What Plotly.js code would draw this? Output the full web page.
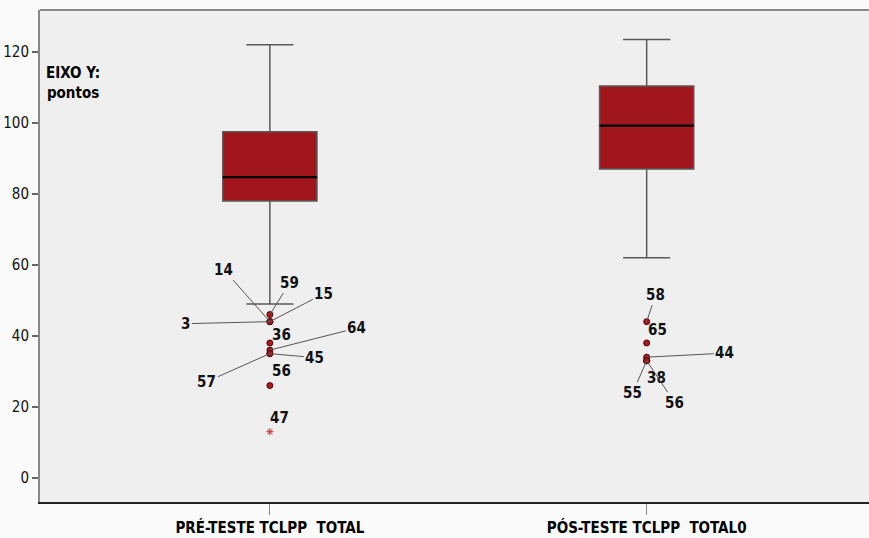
<!DOCTYPE html>
<html><head><meta charset="utf-8">
<script src="https://cdn.plot.ly/plotly-3.0.1.min.js"></script>
<style>html,body{margin:0;padding:0;background:#fafafa;}#chart{width:869px;height:538px;}</style>
</head><body><div id="chart"></div>
<script>
// ---- data ----
const categories = ["PRÉ-TESTE TCLPP  TOTAL", "PÓS-TESTE TCLPP  TOTAL0"];
const q1Vals = [78, 87];
const medianVals = [84.7, 99.2];
const q3Vals = [97.5, 110.4];
const lowerFence = [49, 62];
const upperFence = [122, 123.5];
const preOutlierIds = ["59", "14", "15", "3", "36", "64", "45", "57", "56"];
const preOutlierVals = [46, 44, 44, 44, 38, 36, 35, 35, 26];
const preExtremeIds = ["47"];
const preExtremeVals = [13];
const postOutlierIds = ["58", "65", "44", "55", "38", "56"];
const postOutlierVals = [44, 38, 34, 33, 33, 33];

// ---- label placement (pixel offsets; styling only) ----
const labelOffsets = {
  pre: {"59":[20,-32,true],"14":[-46,-52,true],"15":[54,-28,true],"3":[-84,2,true],
        "36":[12,8,false],"64":[87,-22,true],"45":[45,4,true],"57":[-63,28,true],
        "56":[12,15,false],"47":[10,14,false]},
  post:{"58":[9,-27,true],"65":[11,13,false],"44":[78,-4,true],"55":[-14,32,true],
        "38":[10,-17,false],"56":[28,42,true]}
};

const FONT = "'Liberation Sans Narrow', 'DejaVu Sans Condensed', 'Arial Narrow', sans-serif";
const boxFill = "#a0161c";
const traces = [];
const halfW = 0.125;

categories.forEach((c, i) => {
  traces.push({
    type: "box", x: [i], q1: [q1Vals[i]], median: [medianVals[i]], q3: [q3Vals[i]],
    lowerfence: [lowerFence[i]], upperfence: [upperFence[i]],
    width: 2*halfW, whiskerwidth: 0.5, fillcolor: boxFill,
    line: {color: "#5a5a5a", width: 1.5}, boxpoints: false, hoverinfo: "skip", showlegend: false
  });
  traces.push({
    type: "scatter", mode: "lines", x: [i - halfW, i + halfW], y: [medianVals[i], medianVals[i]],
    line: {color: "#000", width: 2.2}, hoverinfo: "skip", showlegend: false
  });
});

const markerStyle = {symbol: "circle", size: 6, color: "#b0161e", line: {color: "#4a0808", width: 1}};
traces.push({type: "scatter", mode: "markers", x: preOutlierVals.map(() => 0), y: preOutlierVals,
  marker: markerStyle, showlegend: false, hoverinfo: "skip"});
traces.push({type: "scatter", mode: "markers", x: postOutlierVals.map(() => 1), y: postOutlierVals,
  marker: markerStyle, showlegend: false, hoverinfo: "skip"});
traces.push({type: "scatter", mode: "markers", x: preExtremeVals.map(() => 0), y: preExtremeVals,
  marker: {symbol: "asterisk-open", size: 6, color: "#c03030", line: {color: "#c03030", width: 1}},
  showlegend: false, hoverinfo: "skip"});

const labelFont = {family: FONT, size: 15, color: "#111", weight: "bold"};
const annotations = [];
function addLabels(ids, vals, xi, offs) {
  ids.forEach((id, k) => {
    const o = offs[id];
    if (o[2]) {
      annotations.push({x: xi, y: vals[k], text: "<b>" + id + "</b>", showarrow: true, arrowhead: 0,
        arrowwidth: 1, arrowcolor: "#555", ax: o[0], ay: o[1], standoff: 0, font: labelFont});
    } else {
      annotations.push({x: xi, y: vals[k], text: "<b>" + id + "</b>", showarrow: false,
        xshift: o[0], yshift: o[1], font: labelFont});
    }
  });
}
addLabels(preOutlierIds, preOutlierVals, 0, labelOffsets.pre);
addLabels(preExtremeIds, preExtremeVals, 0, labelOffsets.pre);
addLabels(postOutlierIds, postOutlierVals, 1, labelOffsets.post);

annotations.push({xref: "paper", yref: "paper", x: 0.04, y: 0.851, xanchor: "center", yanchor: "middle",
  text: "<b>EIXO Y:</b><br><b>pontos</b>", showarrow: false, align: "center",
  font: {family: FONT, size: 15, color: "#000"}});

const layout = {
  width: 869, height: 538,
  margin: {l: 40, r: 0, t: 10, b: 36},
  paper_bgcolor: "#fafafa", plot_bgcolor: "#efefef",
  font: {family: FONT, size: 15, color: "#111"},
  xaxis: {range: [-0.61, 1.59], tickvals: [0, 1], ticktext: categories.map(c => "<b>" + c.replace(/ /g, "&nbsp;") + "</b>"),
    ticks: "outside", ticklen: 11, tickcolor: "#888", tickwidth: 1, showgrid: false, zeroline: false,
    showline: true, linecolor: "#222", linewidth: 1.5, tickfont: {family: FONT, size: 15, color: "#000"}, fixedrange: true},
  yaxis: {range: [-6.8, 131.8], tickvals: [0, 20, 40, 60, 80, 100, 120], ticks: "outside", ticklen: 6,
    tickcolor: "#666", tickwidth: 1.5, showgrid: false, zeroline: false, showline: true, linecolor: "#888",
    linewidth: 2, tickfont: {family: FONT, size: 15, color: "#111"}, fixedrange: true},
  shapes: [{type: "line", xref: "paper", yref: "paper", x0: 0, x1: 1, y0: 1, y1: 1,
    line: {color: "#8a8a8a", width: 2}}],
  annotations: annotations,
  showlegend: false
};
Plotly.newPlot("chart", traces, layout, {displayModeBar: false, staticPlot: true});
</script></body></html>
